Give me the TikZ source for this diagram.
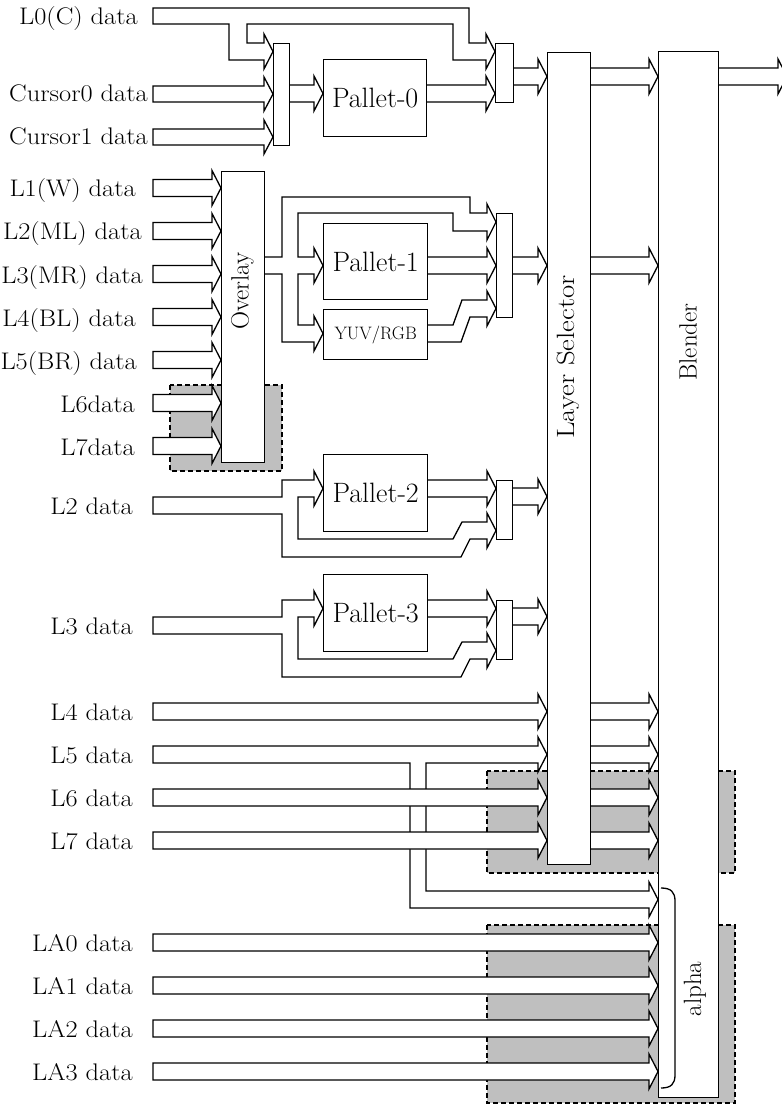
\documentclass[tikz,border=0pt]{standalone}
\usetikzlibrary{calc}
\tikzset{
  busline/.style={draw=black, line width=1.3pt, fill=white, line join=miter},
  blk/.style={draw=black, line width=1.3pt, fill=white, inner sep=0pt, anchor=north west},
  shadebox/.style={fill=black!25, draw=black, line width=1.8pt, dash pattern=on 5pt off 3pt},
  lbl/.style={anchor=base east, inner sep=0pt, font=\fontsize{24}{28}\selectfont},
  boxlbl/.style={inner sep=0pt, font=\fontsize{28}{32}\selectfont},
  vlbl/.style={inner sep=0pt, rotate=90, font=\fontsize{25}{29}\selectfont},
}
\newcommand\W[1]{\scalebox{1.1}[1]{#1}}
% simple wide bus arrow: x0, ytop, ybottom, xtip
\newcommand\wbus[4]{\draw[busline] (#1,#2) -- ({#4-9},#2) -- ({#4-9},{#2-9}) -- (#4,{(#2+#3)/2}) -- ({#4-9},{#3+9}) -- ({#4-9},#3) -- (#1,#3) -- cycle;}
% box node: name, x1, y1, x2, y2
\newcommand\bx[5]{\node[blk, minimum width={(#4-#2)*1pt}, minimum height={(#5-#3)*1pt}] (#1) at (#2,#3) {};}
\begin{document}
\begin{tikzpicture}[x=1pt,y=-1pt]
\useasboundingbox (0,0) rectangle (781,1107);

% shaded (optional) regions
\path[shadebox] (170,385) rectangle (282,471);
\path[shadebox] (487,771) rectangle (735,873);
\path[shadebox] (487,925) rectangle (735,1103);

% ---------- top: L0 / cursors ----------
\draw[busline] (153,8) -- (469,8) -- (469,43) -- (486,43) -- (486,34) -- (495,51.5) -- (486,69) -- (486,60) -- (453,60) -- (453,24) -- (247,24) -- (247,43) -- (264,43) -- (264,34) -- (273,51.5) -- (264,69) -- (264,60) -- (229,60) -- (229,24) -- (153,24) -- cycle;
\wbus{153}{86}{102}{273}
\wbus{153}{129}{145}{273}
\wbus{289}{85}{102}{323}
\wbus{426}{85}{102}{495}
\wbus{513}{68}{85}{547}
\wbus{590}{68}{85}{658}
\wbus{718}{68}{85}{787}

% ---------- overlay inputs ----------
\foreach \c in {188,231,274,317,360,403,446}{\wbus{153}{\c-8.5}{\c+8.5}{221}}

% overlay output, three-way split
\draw[busline] (264,257) -- (282,257) -- (282,197) -- (470,197) -- (470,213) -- (487,213) -- (487,204) -- (496,222) -- (487,240) -- (487,231) -- (453,231) -- (453,213) -- (298,213) -- (298,257) -- (314,257) -- (314,248) -- (323,265.5) -- (314,283) -- (314,274) -- (298,274) -- (298,325) -- (314,325) -- (314,316) -- (323,333.5) -- (314,351) -- (314,342) -- (282,342) -- (282,274) -- (264,274) -- cycle;
\wbus{427}{257}{274}{496}
\draw[busline] (427,325) -- (453,325) -- (462,300) -- (487,300) -- (487,291) -- (496,308.5) -- (487,326) -- (487,317) -- (470,317) -- (461,342) -- (427,342) -- cycle;
\wbus{512}{257}{274}{547}
\wbus{590}{257}{274}{658}

% ---------- L2 / Pallet-2 ----------
\draw[busline] (153,497) -- (282,497) -- (282,480) -- (314,480) -- (314,471) -- (323,488.5) -- (314,506) -- (314,497) -- (298,497) -- (298,539) -- (453,539) -- (462,522) -- (487,522) -- (487,513) -- (496,530.5) -- (487,548) -- (487,539) -- (470,539) -- (461,557) -- (282,557) -- (282,514) -- (153,514) -- cycle;
\wbus{427}{480}{497}{496}
\wbus{512}{488}{505}{547}

% ---------- L3 / Pallet-3 ----------
\draw[busline] (153,617) -- (282,617) -- (282,600) -- (314,600) -- (314,591) -- (323,608.5) -- (314,626) -- (314,617) -- (298,617) -- (298,659) -- (453,659) -- (462,642) -- (487,642) -- (487,633) -- (496,650.5) -- (487,668) -- (487,659) -- (470,659) -- (461,677) -- (282,677) -- (282,634) -- (153,634) -- cycle;
\wbus{427}{600}{617}{496}
\wbus{512}{608}{625}{547}

% ---------- L4..L7 ----------
\draw[busline] (153,746) -- (538,746) -- (538,737) -- (547,754.5) -- (538,772) -- (538,763) -- (426,763) -- (426,891) -- (649,891) -- (649,882) -- (658,899.5) -- (649,917) -- (649,908) -- (410,908) -- (410,763) -- (153,763) -- cycle;
\wbus{153}{703}{720}{547}
\wbus{153}{789}{806}{547}
\wbus{153}{832}{849}{547}
\foreach \t in {703,746,789,832}{\wbus{590}{\t}{\t+17}{658}}

% ---------- alpha inputs ----------
\foreach \t in {934,977,1020,1063}{\wbus{153}{\t}{\t+17}{658}}

% ---------- blocks ----------
\bx{mux0}{273}{43}{289}{145}
\bx{pal0}{323}{59}{426}{136}
\bx{mux1}{495}{43}{513}{102}
\bx{ovl}{221}{171}{264}{462}
\bx{pal1}{323}{223}{427}{299}
\bx{yuv}{323}{309}{427}{359}
\bx{mux2}{496}{213}{512}{317}
\bx{pal2}{323}{454}{427}{531}
\bx{mux3}{496}{480}{512}{539}
\bx{pal3}{323}{574}{427}{651}
\bx{mux4}{496}{600}{512}{659}
\bx{lsel}{547}{52}{590}{864}
\bx{blend}{658}{51}{718}{1097}

\node[boxlbl] (pal0t) at (pal0.center) {Pallet-0};
\node[boxlbl] (pal1t) at (pal1.center) {Pallet-1};
\node[boxlbl] (pal2t) at (pal2.center) {Pallet-2};
\node[boxlbl] (pal3t) at (pal3.center) {Pallet-3};
\node[inner sep=0pt, font=\fontsize{18}{21}\selectfont] (yuvt) at (yuv.center) {YUV/RGB};
\node[vlbl] (ovlt) at (242.5,291) {Overlay};
\node[vlbl] (lselt) at (568.5,357) {\scalebox{1.15}[1]{Layer Selector}};
\node[vlbl] (blendt) at (688,342) {Blender};
\node[vlbl] (alphat) at (695,989) {alpha};

% alpha bracket
\draw[line width=1.3pt] (661,888) .. controls (671,888) and (675,892) .. (675,901) -- (675,1075) .. controls (675,1084) and (671,1088) .. (661,1088);

% ---------- input labels ----------
\node[lbl] (tL0) at (138,25) {\W{L0(C) data}};
\node[lbl] (tC0) at (148,102) {\W{Cursor0 data}};
\node[lbl] (tC1) at (148,145) {\W{Cursor1 data}};
\node[lbl] (tL1W) at (136,197) {\W{L1(W) data}};
\node[lbl] (tL2ML) at (142,240) {\W{L2(ML) data}};
\node[lbl] (tL3MR) at (143,283) {\W{L3(MR) data}};
\node[lbl] (tL4BL) at (136,326) {\W{L4(BL) data}};
\node[lbl] (tL5BR) at (137,369) {\W{L5(BR) data}};
\node[lbl] (tL6o) at (135,412) {\W{L6data}};
\node[lbl] (tL7o) at (135,455) {\W{L7data}};
\node[lbl] (tL2) at (133,514) {\W{L2 data}};
\node[lbl] (tL3) at (133,634) {\W{L3 data}};
\node[lbl] (tL4) at (133,720) {\W{L4 data}};
\node[lbl] (tL5) at (133,763) {\W{L5 data}};
\node[lbl] (tL6) at (133,806) {\W{L6 data}};
\node[lbl] (tL7) at (133,849) {\W{L7 data}};
\node[lbl] (tLA0) at (133,951) {\W{LA0 data}};
\node[lbl] (tLA1) at (133,994) {\W{LA1 data}};
\node[lbl] (tLA2) at (133,1037) {\W{LA2 data}};
\node[lbl] (tLA3) at (133,1080) {\W{LA3 data}};
\end{tikzpicture}
\end{document}
